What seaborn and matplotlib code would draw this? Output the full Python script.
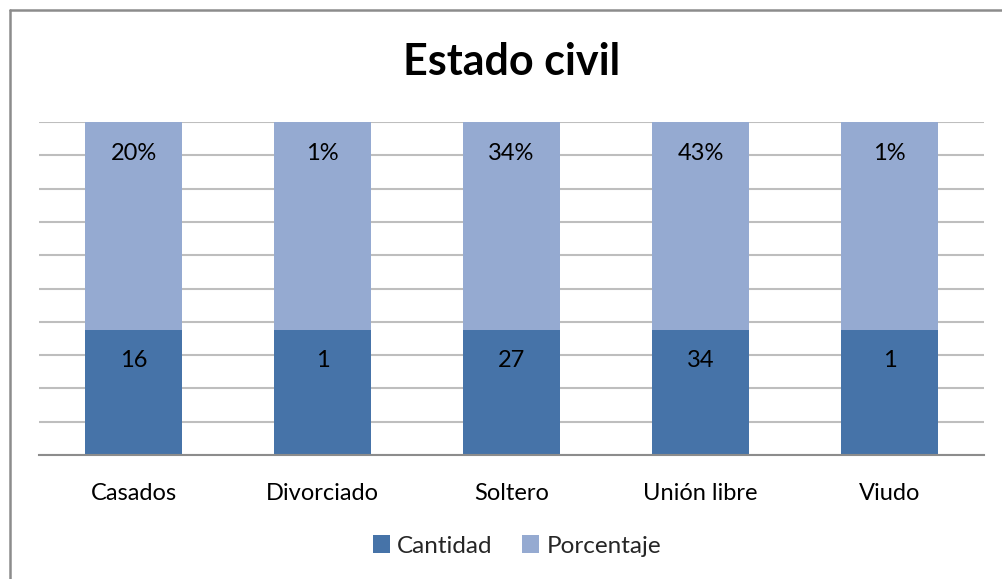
import matplotlib
matplotlib.use("Agg")
import matplotlib.pyplot as plt
import seaborn as sns
import pandas as pd
from matplotlib.patches import Patch
from matplotlib.lines import Line2D

categorias = ["Casados", "Divorciado", "Soltero", "Unión libre", "Viudo"]
cantidad = [16, 1, 27, 34, 1]
porcentaje = ["20%", "1%", "34%", "43%", "1%"]
# share of each bar (100% stacked) as drawn in the reference
altura_cantidad = [37.5, 37.5, 37.5, 37.5, 37.5]
altura_porcentaje = [62.5, 62.5, 62.5, 62.5, 62.5]

c_dark = "#4673A8"
c_light = "#95AAD1"

sns.set_theme(style="white")
plt.rcParams["font.family"] = ["Lato", "DejaVu Sans"]

fig = plt.figure(figsize=(10.02, 5.79), dpi=100)
W, H = 1002, 579
ax = fig.add_axes([39 / W, 1 - 455 / H, (984 - 39) / W, (455 - 122) / H])

df = pd.DataFrame({
    "cat": categorias,
    "total": [a + b for a, b in zip(altura_cantidad, altura_porcentaje)],
    "cant": altura_cantidad,
})

sns.barplot(data=df, x="cat", y="total", color=c_light, saturation=1,
            width=0.513, ax=ax, zorder=3, linewidth=0)
sns.barplot(data=df, x="cat", y="cant", color=c_dark, saturation=1,
            width=0.513, ax=ax, zorder=4, linewidth=0)

ax.set_ylim(0, 100)
ax.set_xlim(-0.5, len(categorias) - 0.5)
ax.set_yticks(range(0, 101, 10))
ax.yaxis.grid(True, color="#BEBEBE", linewidth=1.5, zorder=0)
ax.set_axisbelow(True)
ax.tick_params(axis="y", left=False, labelleft=False)
ax.tick_params(axis="x", bottom=False, labelsize=17, pad=14, colors="black")
ax.set_xlabel("")
ax.set_ylabel("")
for s in ["top", "right", "left"]:
    ax.spines[s].set_visible(False)
ax.spines["bottom"].set_color("#8C8C8C")
ax.spines["bottom"].set_linewidth(1.5)
ax.spines["bottom"].set_zorder(5)

for i in range(len(categorias)):
    ax.annotate(str(cantidad[i]), (i, altura_cantidad[i]), xytext=(0, -30),
                textcoords="offset pixels", ha="center", va="center",
                fontsize=17, color="black", zorder=6)
    ax.annotate(porcentaje[i], (i, altura_cantidad[i] + altura_porcentaje[i]),
                xytext=(0, -31), textcoords="offset pixels", ha="center",
                va="center", fontsize=17, color="black", zorder=6)

fig.text(512 / W, 1 - 62 / H, "Estado civil", ha="center", va="center",
         fontsize=31, fontweight="bold", color="black")

handles = [Patch(facecolor=c_dark, edgecolor="none"),
           Patch(facecolor=c_light, edgecolor="none")]
fig.legend(handles, ["Cantidad", "Porcentaje"], loc="center",
           bbox_to_anchor=(517 / W, 1 - 546 / H), ncol=2, frameon=False,
           fontsize=17.5, handlelength=0.7, handleheight=0.7,
           handletextpad=0.3, columnspacing=1.2)

# chart frame (left and top edges visible)
fig.add_artist(Line2D([9.5 / W, 9.5 / W], [0, 1 - 10 / H],
                      transform=fig.transFigure, color="#8C8C8C", linewidth=1.8))
fig.add_artist(Line2D([9.5 / W, 1], [1 - 10 / H, 1 - 10 / H],
                      transform=fig.transFigure, color="#8C8C8C", linewidth=1.8))

fig.savefig("out.png", dpi=100)
